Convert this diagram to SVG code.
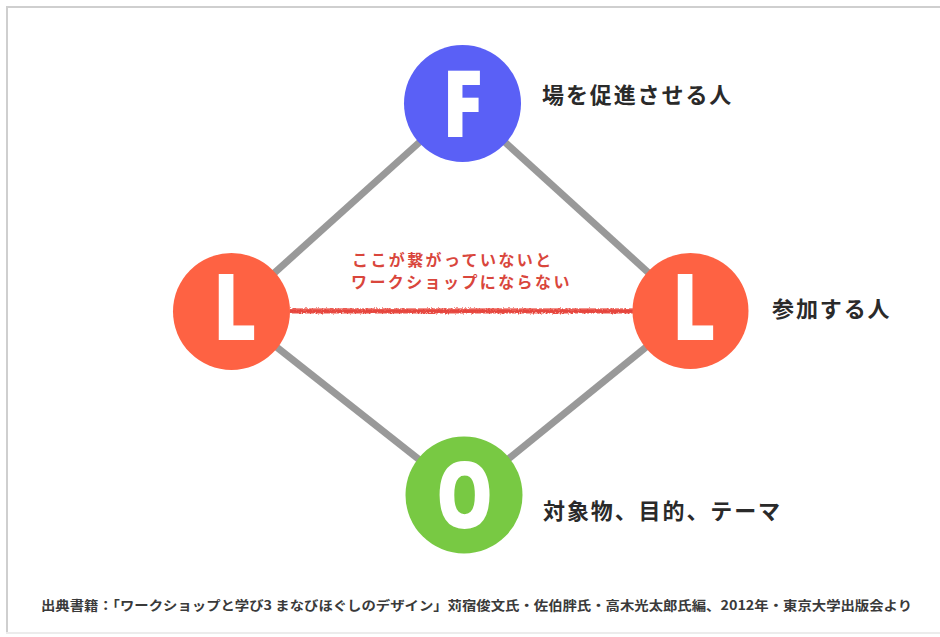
<svg xmlns="http://www.w3.org/2000/svg" width="940" height="637" viewBox="0 0 940 637">
  <style>
    .edge { stroke: #999999; stroke-width: 7; fill: none; stroke-linecap: butt; }
    .letter { font-family: "Open Sans", "Noto Sans", sans-serif; font-weight: 800; fill: #ffffff; text-anchor: middle; }
    .label { font-family: "Noto Sans CJK JP", sans-serif; font-weight: 700; fill: #2a2a2a; font-size: 22px; letter-spacing: 1.9px; }
    .note { font-family: "Noto Sans CJK JP", sans-serif; font-weight: 700; fill: #d9463c; font-size: 16px; letter-spacing: 2.4px; }
    .foot { font-family: "Noto Sans CJK JP", sans-serif; font-weight: 700; fill: #3a3a3a; font-size: 13px; }
  </style>
  <defs>
    <filter id="rough" x="-5%" y="-200%" width="110%" height="500%">
      <feTurbulence type="fractalNoise" baseFrequency="0.6" numOctaves="2" seed="3" result="n"/>
      <feDisplacementMap in="SourceGraphic" in2="n" scale="3.5" xChannelSelector="R" yChannelSelector="G"/>
    </filter>
  </defs>
  <rect x="0" y="0" width="940" height="637" fill="#ffffff"/>
  <g id="frame" fill="none" stroke="#cfcfcf" stroke-width="2">
    <line x1="6" y1="7" x2="940" y2="7"/>
    <line x1="7" y1="6" x2="7" y2="634"/>
    <line x1="6" y1="633" x2="940" y2="633" stroke="#ececec"/>
  </g>
  <g id="connectors">
    <line class="edge" x1="231.5" y1="311.5" x2="462.5" y2="103.5"/>
    <line class="edge" x1="462.5" y1="103.5" x2="690.5" y2="311"/>
    <line class="edge" x1="231.5" y1="311.5" x2="464" y2="495"/>
    <line class="edge" x1="464" y1="495" x2="690.5" y2="311"/>
    <g filter="url(#rough)">
      <line x1="290" y1="311" x2="633" y2="311" stroke="#e5453d" stroke-width="4.5"/>
      <line x1="290" y1="309" x2="633" y2="309" stroke="#ef6a62" stroke-width="1.5" opacity="0.8"/>
      <line x1="290" y1="313" x2="633" y2="313" stroke="#ee5f57" stroke-width="1.2" opacity="0.7"/>
    </g>
  </g>
  <g id="note">
    <text class="note" x="352" y="266">ここが繋がっていないと</text>
    <text class="note" x="351" y="288">ワークショップにならない</text>
  </g>
  <g id="node-F">
    <circle cx="462.5" cy="103.5" r="58.5" fill="#5a60f6"/>
    <text class="letter" x="462.5" y="137" font-size="92" transform="translate(462.5 0) scale(0.82 1) translate(-462.5 0)">F</text>
    <text class="label" x="542" y="103">場を促進させる人</text>
  </g>
  <g id="node-L-left">
    <circle cx="231.5" cy="311.5" r="58.5" fill="#fe6243"/>
    <text class="letter" x="235" y="340" font-size="92" transform="translate(235 0) scale(0.82 1) translate(-235 0)">L</text>
  </g>
  <g id="node-L-right">
    <circle cx="690.5" cy="311" r="58" fill="#fe6243"/>
    <text class="letter" x="694" y="340" font-size="92" transform="translate(694 0) scale(0.82 1) translate(-694 0)">L</text>
    <text class="label" x="772" y="317">参加する人</text>
  </g>
  <g id="node-O">
    <circle cx="464" cy="495" r="58.5" fill="#78c943"/>
    <text class="letter" x="464.5" y="528" font-size="92" transform="translate(464.5 0) scale(0.78 1) translate(-464.5 0)">O</text>
    <text class="label" x="543" y="519">対象物、目的、テーマ</text>
  </g>
  <g id="footer">
    <text class="foot" x="41" y="610" textLength="871" lengthAdjust="spacingAndGlyphs">出典書籍：「ワークショップと学び3 まなびほぐしのデザイン」苅宿俊文氏・佐伯胖氏・高木光太郎氏編、2012年・東京大学出版会より</text>
  </g>
</svg>
